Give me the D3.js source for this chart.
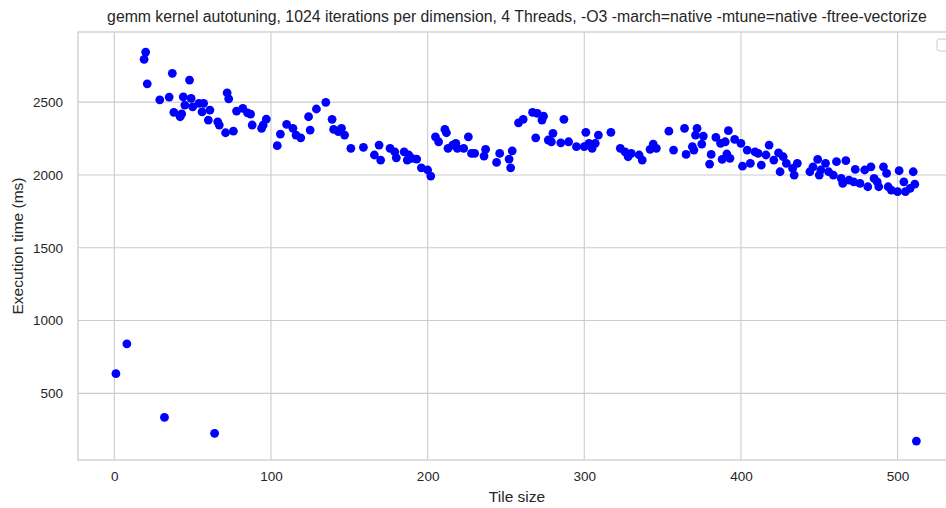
<!DOCTYPE html>
<html>
<head>
<meta charset="utf-8">
<script src="https://cdn.jsdelivr.net/npm/d3@7"></script>
<style>
  html, body { margin: 0; padding: 0; background: #ffffff; overflow: hidden; }
  svg { display: block; }
  text { font-family: "Liberation Sans", Arial, sans-serif; fill: #262626; }
</style>
</head>
<body>
<svg id="chart" width="946" height="508"></svg>
<script>
// Autotuning measurements: tile size vs. execution time (ms)
const tileSize = [
  1, 8, 19, 20, 21, 29, 32, 35, 37, 38, 42, 43, 44, 45, 48, 49, 50, 54, 56, 57,
  60, 61, 64, 66, 67, 71, 72, 73, 76, 78, 82, 85, 87, 88, 94, 95, 97, 104, 106, 110,
  114, 116, 119, 124, 125, 129, 135, 139, 140, 143, 145, 147, 151, 159, 166, 169, 170, 176, 179, 180,
  185, 187, 188, 190, 193, 196, 200, 202, 205, 207, 211, 212, 213, 216, 218, 219, 223, 226, 228, 230,
  236, 237, 244, 246, 252, 253, 254, 258, 261, 267, 269, 270, 273, 274, 277, 279, 280, 285, 287, 290,
  295, 300, 301, 303, 305, 307, 309, 317, 323, 326, 328, 330, 335, 337, 342, 344, 346, 354, 357, 364,
  365, 369, 370, 371, 372, 375, 376, 380, 381, 384, 387, 388, 390, 391, 392, 393, 396, 400, 401, 404,
  406, 409, 411, 413, 416, 418, 421, 424, 425, 427, 429, 433, 434, 436, 444, 446, 449, 450, 451, 454,
  456, 459, 461, 464, 465, 467, 469, 472, 473, 476, 479, 481, 483, 485, 487, 488, 491, 493, 494, 496,
  500, 501, 504, 505, 508, 510, 511, 512
];
const execTime = [
  635, 840, 2794, 2844, 2626, 2516, 335, 2535, 2698, 2430, 2400, 2420, 2537, 2480, 2652, 2526, 2468, 2492, 2434, 2492,
  2377, 2446, 225, 2365, 2343, 2290, 2564, 2523, 2301, 2439, 2457, 2427, 2418, 2343, 2320, 2343, 2384, 2201, 2281, 2347,
  2320, 2274, 2255, 2400, 2308, 2453, 2499, 2382, 2313, 2297, 2320, 2274, 2183, 2190, 2137, 2205, 2102, 2183, 2159, 2118,
  2159, 2102, 2137, 2114, 2109, 2049, 2034, 1992, 2262, 2228, 2313, 2290, 2183, 2205, 2217, 2183, 2183, 2262, 2148, 2148,
  2130, 2176, 2086, 2148, 2109, 2049, 2166, 2358, 2382, 2430, 2255, 2423, 2377, 2404, 2240, 2228, 2286, 2221, 2382, 2228,
  2194, 2194, 2293, 2217, 2183, 2217, 2274, 2293, 2183, 2159, 2125, 2148, 2137, 2102, 2176, 2212, 2183, 2301, 2171, 2320,
  2141, 2194, 2171, 2274, 2320, 2212, 2267, 2075, 2141, 2258, 2217, 2107, 2228, 2144, 2304, 2114, 2244, 2217, 2060, 2171,
  2080, 2159, 2148, 2068, 2137, 2205, 2102, 2152, 2022, 2125, 2080, 2045, 1999, 2080, 2022, 2056, 2107, 1999, 2034, 2080,
  2022, 1999, 2091, 1977, 1942, 2098, 1965, 1953, 2038, 1942, 2034, 1919, 2056, 1977, 1953, 1919, 2056, 2011, 1919, 1896,
  1885, 2029, 1953, 1885, 1908, 2022, 1937, 172
];
const xTicks = [0, 100, 200, 300, 400, 500];
const yTicks = [500, 1000, 1500, 2000, 2500];

const titleText = "gemm kernel autotuning, 1024 iterations per dimension, 4 Threads, -O3 -march=native -mtune=native -ftree-vectorize";
const xLabel = "Tile size";
const yLabel = "Execution time (ms)";

const points = tileSize.map((t, i) => ({ t, ms: execTime[i] }));

const svg = d3.select("#chart");
const plot = { left: 78, top: 32, right: 956, bottom: 460 };

const x = d3.scaleLinear().domain([-23.2, 537.3]).range([plot.left, plot.right]);
const y = d3.scaleLinear().domain([42, 2982]).range([plot.bottom, plot.top]);

const gridColor = "#cccccc";

// Grid lines
const grid = svg.append("g");
grid.selectAll("line.gx").data(xTicks).join("line")
  .attr("x1", d => x(d)).attr("x2", d => x(d))
  .attr("y1", plot.top).attr("y2", plot.bottom)
  .attr("stroke", gridColor).attr("stroke-width", 1.1);
grid.selectAll("line.gy").data(yTicks).join("line")
  .attr("x1", plot.left).attr("x2", plot.right)
  .attr("y1", d => y(d)).attr("y2", d => y(d))
  .attr("stroke", gridColor).attr("stroke-width", 1.1);

// Axes frame
svg.append("rect")
  .attr("x", plot.left).attr("y", plot.top)
  .attr("width", plot.right - plot.left).attr("height", plot.bottom - plot.top)
  .attr("fill", "none").attr("stroke", gridColor).attr("stroke-width", 1.3);

// Tick labels via d3 axes (no tick marks)
const xAxis = svg.append("g")
  .attr("transform", `translate(0,${plot.bottom})`)
  .call(d3.axisBottom(x).tickValues(xTicks).tickFormat(d3.format("d")).tickSize(0).tickPadding(11));
const yAxis = svg.append("g")
  .attr("transform", `translate(${plot.left},0)`)
  .call(d3.axisLeft(y).tickValues(yTicks).tickFormat(d3.format("d")).tickSize(0).tickPadding(15));
[xAxis, yAxis].forEach(g => {
  g.select(".domain").remove();
  g.selectAll("text")
    .style("font-family", '"Liberation Sans", Arial, sans-serif')
    .style("font-size", "13.5px")
    .attr("fill", "#262626");
});

// Points
svg.append("g").selectAll("circle").data(points).join("circle")
  .attr("cx", d => x(d.t))
  .attr("cy", d => y(d.ms))
  .attr("r", 4.4)
  .attr("fill", "#0000ff");

// Empty legend frame at the upper right
svg.append("rect")
  .attr("x", 937).attr("y", 39)
  .attr("width", 16).attr("height", 12)
  .attr("rx", 2.5)
  .attr("fill", "#ffffff").attr("fill-opacity", 0.8)
  .attr("stroke", gridColor).attr("stroke-width", 1);

// Title and axis labels
svg.append("text")
  .attr("x", (plot.left + plot.right) / 2).attr("y", 22)
  .attr("text-anchor", "middle")
  .style("font-size", "15.8px")
  .text(titleText);

svg.append("text")
  .attr("x", (plot.left + plot.right) / 2).attr("y", 502)
  .attr("text-anchor", "middle")
  .style("font-size", "15.5px")
  .text(xLabel);

svg.append("text")
  .attr("transform", `translate(23,${(plot.top + plot.bottom) / 2}) rotate(-90)`)
  .attr("text-anchor", "middle")
  .style("font-size", "15.5px")
  .text(yLabel);
</script>
</body>
</html>
